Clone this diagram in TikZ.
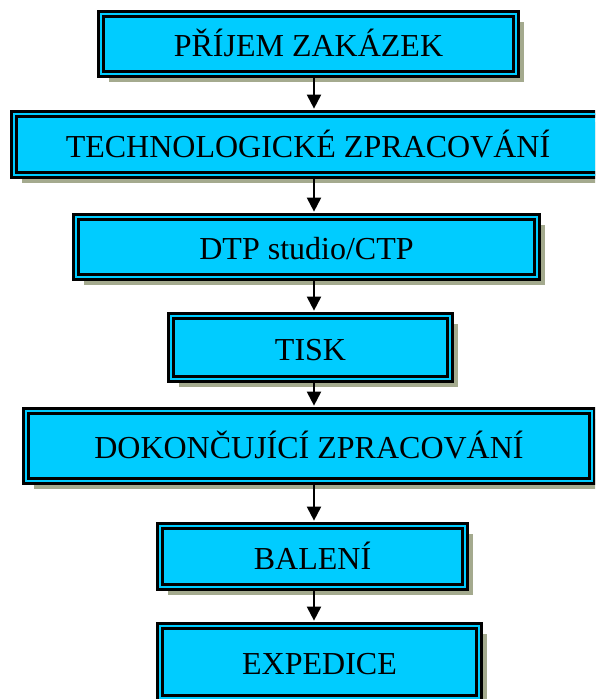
\documentclass[tikz,border=0pt]{standalone}
\usepackage{fontspec}
\setmainfont{Liberation Serif}
\usetikzlibrary{arrows.meta,shadows}
\definecolor{boxcyan}{RGB}{0,204,255}
\definecolor{shadowgray}{RGB}{164,170,142}
\begin{document}
\begin{tikzpicture}[x=1pt,y=-1pt,
	krok/.style={draw=black,line width=2.7pt,double=boxcyan,double distance=2.5pt,
		fill=boxcyan,inner sep=0pt,text height=25pt,text depth=0pt,
		font=\fontsize{32}{38}\selectfont,
		drop shadow={shadow xshift=8pt,shadow yshift=-8pt,fill=shadowgray,opacity=1}},
	sipka/.style={line width=2pt,shorten >=4pt,-{Triangle[length=14pt,width=14pt]}}]
	\useasboundingbox (0,0) rectangle (595,699);
	\clip (0,0) rectangle (595,699);

	\node[krok,minimum width=415pt,minimum height=60pt] (prijem) at (308.5,44) {PŘÍJEM ZAKÁZEK};
	\node[krok,minimum width=588pt,minimum height=61pt] (technolog) at (308,144.5) {TECHNOLOGICKÉ ZPRACOVÁNÍ};
	\node[krok,minimum width=461pt,minimum height=60pt] (dtp) at (306.5,247) {DTP studio/CTP};
	\node[krok,minimum width=279pt,minimum height=63pt] (tisk) at (310.5,347.5) {TISK};
	\node[krok,minimum width=566pt,minimum height=70pt] (dokonceni) at (309,446) {DOKONČUJÍCÍ ZPRACOVÁNÍ};
	\node[krok,minimum width=305pt,minimum height=61pt] (baleni) at (312.5,556.5) {BALENÍ};
	\node[krok,minimum width=319pt,minimum height=72pt] (expedice) at (319.5,662) {EXPEDICE};

	\coordinate (osa) at (314,0);
	\draw[sipka] (prijem.south -| osa) -- (technolog.north -| osa);
	\draw[sipka] (technolog.south -| osa) -- (dtp.north -| osa);
	\draw[sipka] (dtp.south -| osa) -- (tisk.north -| osa);
	\draw[sipka] (tisk.south -| osa) -- (dokonceni.north -| osa);
	\draw[sipka] (dokonceni.south -| osa) -- (baleni.north -| osa);
	\draw[sipka] (baleni.south -| osa) -- (expedice.north -| osa);
\end{tikzpicture}
\end{document}
